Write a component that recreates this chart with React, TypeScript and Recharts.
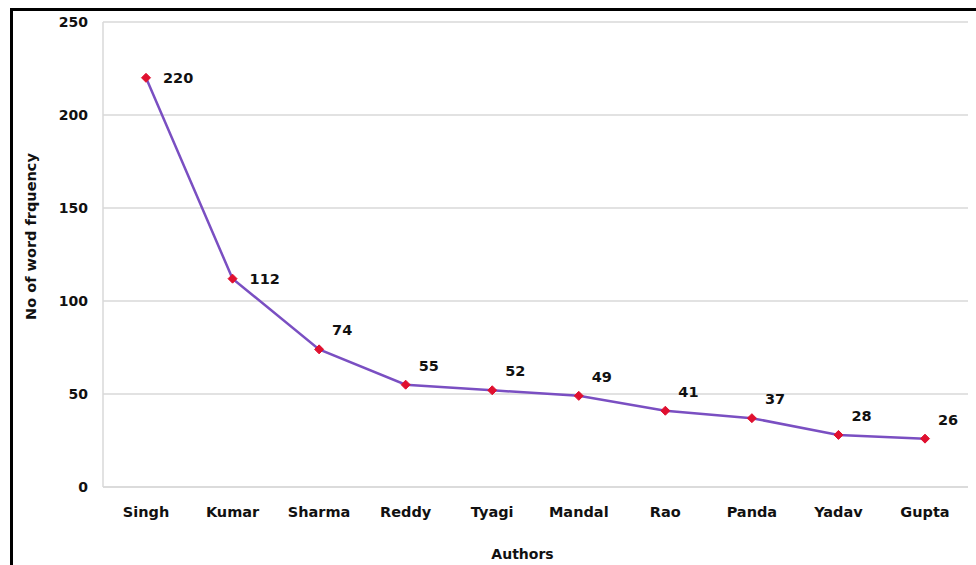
import React from 'react';
import { LineChart, Line, XAxis, YAxis, CartesianGrid, LabelList } from 'recharts';

const authors = ['Singh', 'Kumar', 'Sharma', 'Reddy', 'Tyagi', 'Mandal', 'Rao', 'Panda', 'Yadav', 'Gupta'];
const frequency = [220, 112, 74, 55, 52, 49, 41, 37, 28, 26];
const yTicks = [0, 50, 100, 150, 200, 250];

const data = authors.map((a, i) => ({ author: a, value: frequency[i] }));

const FONT = 'Verdana, "DejaVu Sans", sans-serif';

const Diamond = (props: any) => {
  const { cx, cy, index } = props;
  if (cx == null || cy == null) return null;
  const r = 4.5;
  return (
    <path
      key={`d-${index}`}
      d={`M${cx},${cy - r} L${cx + r},${cy} L${cx},${cy + r} L${cx - r},${cy} Z`}
      fill="#e0102f"
      stroke="#e0102f"
      strokeWidth={1}
    />
  );
};

const ValueLabel = (props: any) => {
  const { x, y, value } = props;
  const big = value > 100;
  const tx = big ? x + 17 : x + 13;
  const ty = big ? y : y - 19;
  return (
    <text x={tx} y={ty} dy="0.35em" fontFamily={FONT} fontWeight="bold" fontSize={14.5} fill="#111">
      {value}
    </text>
  );
};

export default function App() {
  return (
    <div style={{ position: 'absolute', left: 0, top: 0, width: 976, height: 565, background: '#fff' }}>
      <div
        style={{
          position: 'absolute',
          left: 10,
          top: 8,
          width: 966,
          height: 557,
          borderTop: '3px solid #000',
          borderLeft: '3px solid #000',
          boxSizing: 'border-box',
        }}
      />
      <div style={{ position: 'absolute', left: 0, top: 0 }}>
        <LineChart width={976} height={565} data={data} margin={{ top: 22, right: 8, bottom: 0, left: 0 }}>
          <CartesianGrid vertical={false} stroke="#d9d9d9" strokeWidth={1.5} />
          <XAxis
            dataKey="author"
            height={78}
            padding={{ left: 43, right: 43 }}
            tickLine={false}
            tickSize={0}
            tickMargin={20}
            axisLine={{ stroke: '#d9d9d9', strokeWidth: 1.5 }}
            tick={{ fontFamily: FONT, fontWeight: 'bold', fontSize: 14.5, fill: '#111' }}
            interval={0}
            label={{
              value: 'Authors',
              position: 'insideBottom',
              offset: 6,
              dx: -13,
              style: { fontFamily: FONT, fontWeight: 'bold', fontSize: 14, fill: '#111' },
            }}
          />
          <YAxis
            width={103}
            domain={[0, 250]}
            ticks={yTicks}
            tickLine={false}
            tickSize={0}
            tickMargin={15}
            axisLine={{ stroke: '#d9d9d9', strokeWidth: 1.5 }}
            tick={{ fontFamily: FONT, fontWeight: 'bold', fontSize: 14, fill: '#111' }}
            label={{
              value: 'No of word frquency',
              angle: -90,
              position: 'insideLeft',
              dx: 26,
              dy: -18,
              style: { fontFamily: FONT, fontWeight: 'bold', fontSize: 14.5, fill: '#111', textAnchor: 'middle' },
            }}
          />
          <Line
            type="linear"
            dataKey="value"
            stroke="#7a4fc2"
            strokeWidth={2.5}
            dot={<Diamond />}
            activeDot={false}
            isAnimationActive={false}
          >
            <LabelList dataKey="value" content={<ValueLabel />} />
          </Line>
        </LineChart>
      </div>
    </div>
  );
}
